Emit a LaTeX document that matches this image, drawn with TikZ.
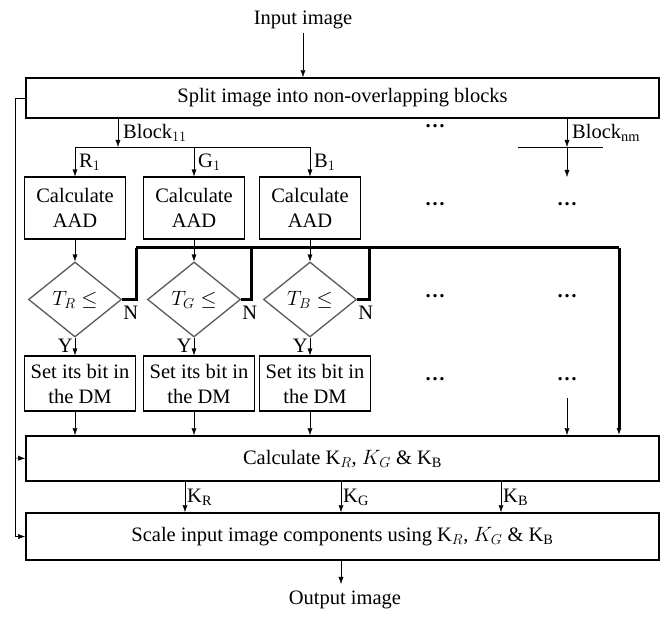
\documentclass[tikz,border=0pt]{standalone}
\usepackage{fontspec}
\setmainfont{Liberation Serif}
\usetikzlibrary{shapes.geometric,arrows.meta}

\begin{document}
\begin{tikzpicture}[x=1pt,y=-1pt,>={Latex[length=7pt,width=5pt]},
    font=\fontsize{20.5}{25}\selectfont,
    bigbox/.style={draw,line width=1.8pt,minimum width=633pt,inner sep=0pt},
    smallbox/.style={draw,line width=1.3pt,align=center,inner sep=0pt},
    test/.style={diamond,draw=black!65,line width=1.3pt,minimum width=93pt,minimum height=75pt,inner sep=0pt},
    fb/.style={line width=3pt},
    lab/.style={inner sep=1pt}]
    \useasboundingbox (0,0) rectangle (665,617);
    \node (in) at (303,20) {Input image};
    \node[bigbox,minimum height=40pt] (split) at (342.5,98) {Split image into non-overlapping blocks};
    \node[bigbox,minimum height=45pt] (calck) at (342.5,458.5) {Calculate K$_{R}$, $K_{G}$ \& K$_{\mathrm{B}}$};
    \node[bigbox,minimum height=47pt] (scale) at (342.5,536.5) {Scale input image components using K$_{R}$, $K_{G}$ \& K$_{\mathrm{B}}$};
    \node (out) at (345,600) {Output image};
    \coordinate (outtop) at (341,584);
    \draw [->] (in) -- (split.north -| in);
    \draw [->] (scale.south -| outtop) -- (outtop);
    \coordinate (left) at (15,458);
    \draw [->] (split.west) -- (split.west -| left) |- (scale.west);
    \draw [->] (left) -- (calck.west);
    \coordinate (br) at (118,147);
    \draw [->] (split.south -| br) -- (br);
    \node[lab,anchor=west] (b11) at (122,133) {Block$_{11}$};
    \draw (75,147) -- (310,147);
    \coordinate (bnm) at (567,147);
    \coordinate (bnmend) at (567,177);
    \draw [->] (split.south -| bnm) -- (bnm);
    \draw ([xshift=-49pt]bnm) -- ([xshift=36pt]bnm);
    \draw [->] (bnm) -- (bnmend);
    \node[lab,anchor=west] (bnml) at (571,133) {Block$_{\mathrm{nm}}$};
    \coordinate (top) at (619,248);
    \foreach \n/\x/\c/\nx in {1/75/R/136,2/194/G/251,3/310/B/369}
    {
        \node[smallbox,minimum width=101pt,minimum height=62pt] (aad\n) at (\x,208) {Calculate\\AAD};
        \node[test] (tst\n) at (\x,299.5) {$T_{\c}\leq$};
        \node[smallbox,minimum width=111pt,minimum height=55pt] (dm\n) at (\x+5,383.5) {Set its bit in\\the DM};
        \draw [->] (aad\n.north |- br) -- (aad\n.north);
        \node[lab,anchor=west] (col\n) at (\x+3,162) {\c$_1$};
        \draw [->] (aad\n.south) -- (tst\n.north);
        \draw [->] (tst\n.south) -- (tst\n.south |- dm\n.north);
        \draw [->] (tst\n.south |- dm\n.south) -- (tst\n.south |- calck.north);
        \node[lab,anchor=north west,yshift=-5pt] (no\n) at (tst\n.east) {N};
        \node[lab,anchor=north east,xshift=-1pt] (yes\n) at (tst\n.south) {Y};
        \draw [fb] (tst\n.east) -| (\nx,248);
    }
    \draw [fb,line join=miter] (136,248) -- (top);
    \draw [fb,->] (top) -- (top |- calck.north);
    \foreach \y [count=\i] in {208,300,383}
    {
        \node (dotsa\i) at (435,\y-4) {\textbf{\dots}};
        \node (dotsb\i) at (567,\y-4) {\textbf{\dots}};
    }
    \node (dotsc) at (435,126) {\textbf{\dots}};
    \coordinate (dend) at (567,398);
    \draw [->] (dend) -- (dend |- calck.north);
    \foreach \n/\x/\c in {1/185/R,2/341/G,3/501/B}
    {
        \coordinate (k\n) at (\x,497);
        \draw [->] (calck.south -| k\n) -- (scale.north -| k\n);
        \node[lab,anchor=west] (kl\n) at (\x+1,497) {K$_{\mathrm{\c}}$};
    }
\end{tikzpicture}
\end{document}
